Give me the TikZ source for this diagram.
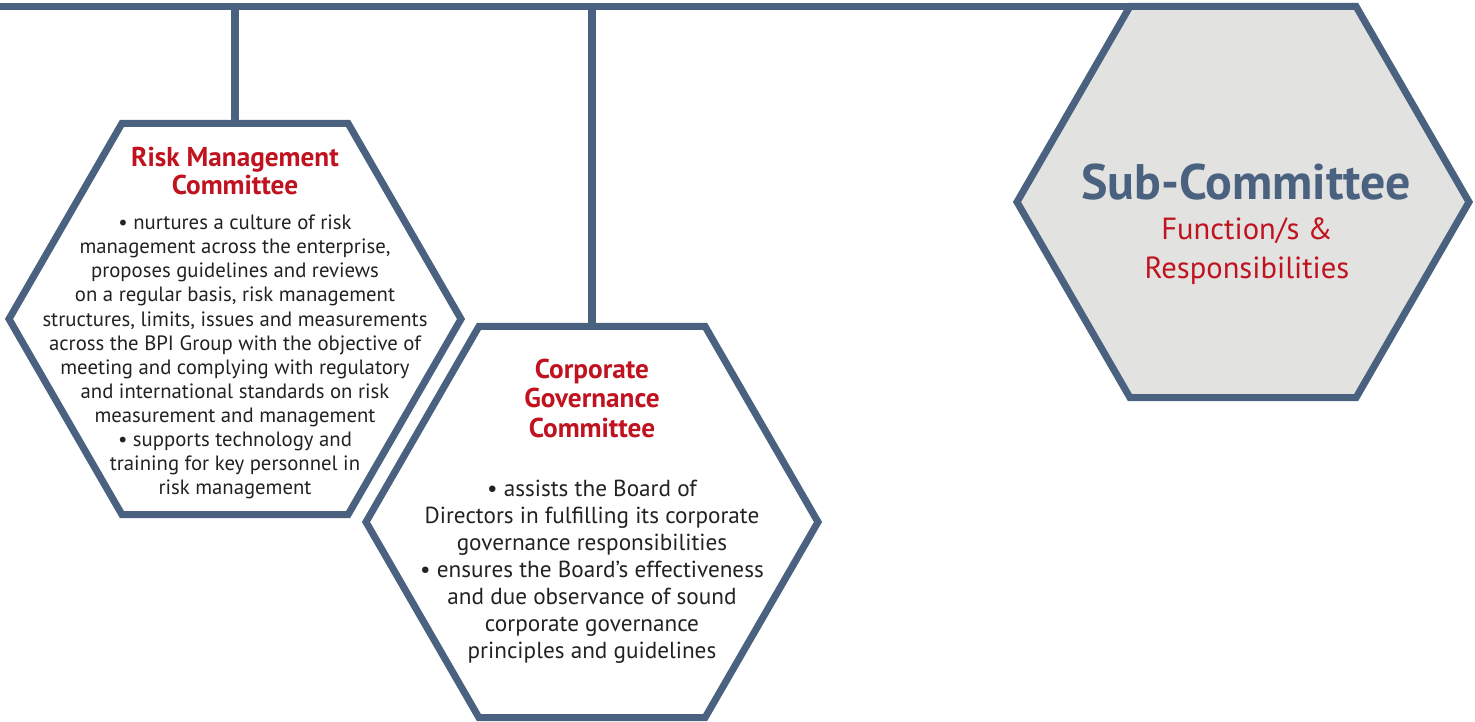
\documentclass[tikz,border=0pt]{standalone}
\usepackage{fontspec}
\setmainfont{PT Sans}
\usetikzlibrary{shapes.geometric}

\definecolor{slate}{HTML}{4B6180}
\definecolor{crimson}{HTML}{C0131F}
\definecolor{hexgray}{HTML}{E2E2E0}
\definecolor{bodytext}{HTML}{222222}

\begin{document}
\begin{tikzpicture}[
    hexagon/.style={regular polygon, regular polygon sides=6, minimum size=9.04cm, inner sep=0pt, outer sep=0pt, draw=slate, line width=4pt, fill=white},
    title/.style={text=crimson, font=\fontsize{15.5}{16}\selectfont\bfseries, align=center},
    body/.style={text=bodytext, font=\fontsize{11.8}{13.7}\selectfont, align=center}
    ]
    \useasboundingbox (0,0) rectangle (29.5,-14.44);
    \coordinate (origin) at (0,0);

    % the three hexagons
    \node [hexagon] (risk) at (4.70,-6.38) {};
    \node [hexagon] (corp) at (11.84,-10.44) {};
    \node [hexagon, fill=hexgray] (sub) at (24.86,-4.04) {};

    % top rail and drops
    \draw [slate, line width=4pt] (sub.north -| origin) -- (sub.north);
    \draw [slate, line width=4pt] (risk.north) -- (risk.north |- sub.north);
    \draw [slate, line width=4pt] (corp.north) -- (corp.north |- sub.north);

    % risk management committee
    \node [title] (risktitle) at (4.70,-3.42) {Risk Management\\Committee};
    \node [body] (riskbody) at (4.70,-7.14) {\textbullet\ nurtures a culture of risk\\
        management across the enterprise,\\
        proposes guidelines and reviews\\
        on a regular basis, risk management\\
        structures, limits, issues and measurements\\
        across the BPI Group with the objective of\\
        meeting and complying with regulatory\\
        and international standards on risk\\
        measurement and management\\
        \textbullet\ supports technology and\\
        training for key personnel in\\
        risk management};

    % corporate governance committee
    \node [title, font=\fontsize{15.5}{16.8}\selectfont\bfseries] (corptitle) at (11.84,-7.96) {Corporate\\Governance\\Committee};
    \node [body, font=\fontsize{13.2}{15.4}\selectfont] (corpbody) at (11.84,-11.43) {\textbullet\ assists the Board of\\
        Directors in fulfilling its corporate\\
        governance responsibilities\\
        \textbullet\ ensures the Board’s effectiveness\\
        and due observance of sound\\
        corporate governance\\
        principles and guidelines};

    % legend hexagon
    \node [text=slate, font=\fontsize{28.4}{30}\selectfont\bfseries] (subname) at (24.92,-3.64) {Sub-Committee};
    \node [text=crimson, font=\fontsize{17.4}{22.2}\selectfont, align=center] (subfunc) at (24.94,-5.02) {Function/s \&\\Responsibilities};
\end{tikzpicture}
\end{document}
